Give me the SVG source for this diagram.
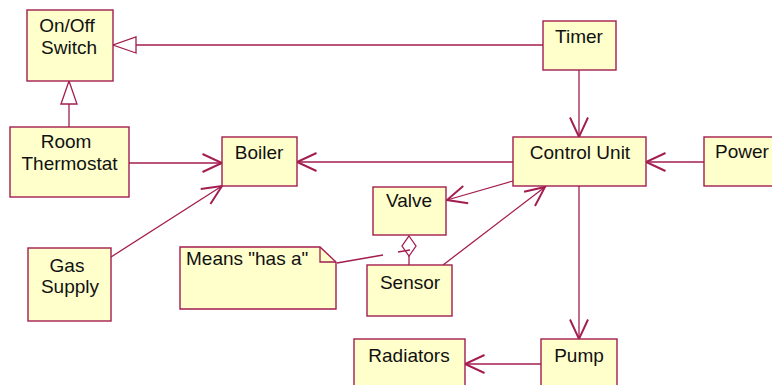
<svg xmlns="http://www.w3.org/2000/svg" width="772" height="385" viewBox="0 0 772 385">
<style>
.box{fill:#ffffcc;stroke:#a31d4f;stroke-width:1.4}
.ln{fill:none;stroke:#a31d4f;stroke-width:1.3}
text{font-family:"Liberation Sans",Arial,sans-serif;font-size:19px;fill:#111;text-anchor:middle}
</style>
<defs>
<marker id="open" markerUnits="userSpaceOnUse" markerWidth="30" markerHeight="30" viewBox="-15 -10 20 20" refX="0" refY="0" orient="auto" overflow="visible">
<path d="M-13,-6 L0,0 L-13,6" fill="none" stroke="#a31d4f" stroke-width="1.3"/>
</marker>
<marker id="tri" markerUnits="userSpaceOnUse" markerWidth="30" markerHeight="30" viewBox="-26 -10 30 20" refX="0" refY="0" orient="auto" overflow="visible">
<path d="M-23,-8 L0,0 L-23,8 Z" fill="#fff" stroke="#a31d4f" stroke-width="1.3"/>
</marker>
</defs>
<rect width="772" height="385" fill="#fff"/>
<g id="connectors">
<line class="ln" x1="543" y1="45" x2="113" y2="45" marker-end="url(#tri)"/>
<line class="ln" x1="69" y1="127" x2="69" y2="81" marker-end="url(#tri)"/>
<line class="ln" x1="579" y1="70" x2="579" y2="137" marker-end="url(#open)"/>
<line class="ln" x1="129" y1="163" x2="222" y2="163" marker-end="url(#open)"/>
<line class="ln" x1="513" y1="162" x2="297" y2="162" marker-end="url(#open)"/>
<line class="ln" x1="704" y1="162" x2="646" y2="162" marker-end="url(#open)"/>
<line class="ln" x1="111" y1="257" x2="222" y2="186" marker-end="url(#open)"/>
<line class="ln" x1="513" y1="181" x2="447" y2="200" marker-end="url(#open)"/>
<line class="ln" x1="443" y1="265" x2="545" y2="187" marker-end="url(#open)"/>
<line class="ln" x1="579" y1="186" x2="579" y2="339" marker-end="url(#open)"/>
<line class="ln" x1="541" y1="364" x2="465" y2="364" marker-end="url(#open)"/>
<path class="ln" d="M409,256 L409,265"/>
<path d="M409,236 L416,246 L409,256 L402,246 Z" fill="#fff" stroke="#a31d4f" stroke-width="1.3"/>
<path class="ln" d="M337,263 L383,255 M398,252 L410,250"/>
</g>
<g id="onoff"><rect class="box" x="27" y="10" width="86" height="71"/><text x="67" y="32">On/Off</text><text x="69" y="54">Switch</text></g>
<g id="thermostat"><rect class="box" x="10" y="127" width="119" height="70"/><text x="66" y="148">Room</text><text x="69.5" y="170">Thermostat</text></g>
<g id="boiler"><rect class="box" x="222" y="137" width="75" height="49"/><text x="259" y="159">Boiler</text></g>
<g id="timer"><rect class="box" x="543" y="21" width="73" height="49"/><text x="579" y="43">Timer</text></g>
<g id="control"><rect class="box" x="513" y="137" width="133" height="49"/><text x="580" y="159">Control Unit</text></g>
<g id="power"><rect class="box" x="704" y="137" width="100" height="49"/><text x="715" y="158" style="text-anchor:start">Power</text></g>
<g id="valve"><rect class="box" x="373" y="187" width="73" height="48"/><text x="409" y="207">Valve</text></g>
<g id="sensor"><rect class="box" x="367" y="265" width="85" height="51"/><text x="410" y="289">Sensor</text></g>
<g id="note"><path class="box" d="M180,247 L320,247 L336,262 L336,309 L180,309 Z"/><path class="ln" d="M320,247 L320,262 L336,262"/><text x="186" y="265" style="text-anchor:start">Means "has a"</text></g>
<g id="gas"><rect class="box" x="28" y="248" width="83" height="73"/><text x="67" y="272">Gas</text><text x="70" y="293">Supply</text></g>
<g id="radiators"><rect class="box" x="354" y="339" width="111" height="60"/><text x="409" y="362">Radiators</text></g>
<g id="pump"><rect class="box" x="541" y="339" width="76" height="60"/><text x="579" y="362">Pump</text></g>
</svg>
